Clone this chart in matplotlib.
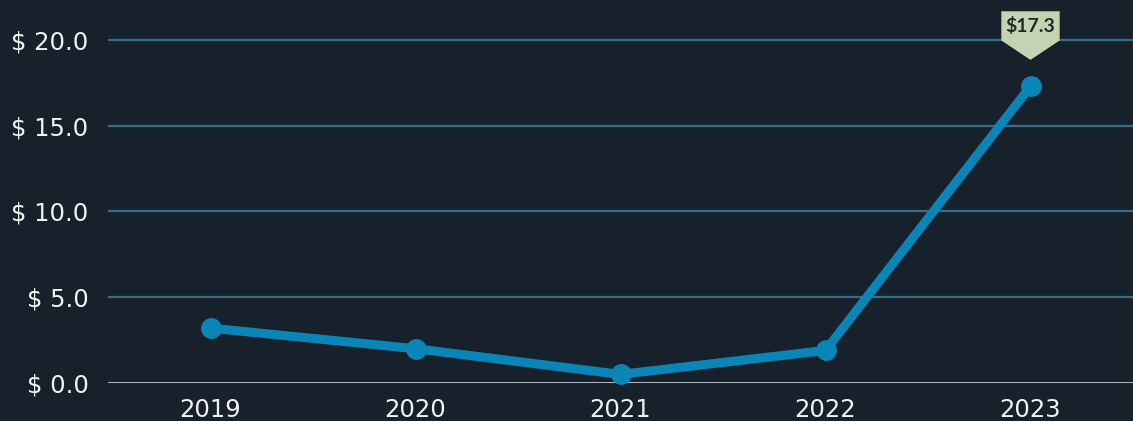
import matplotlib.pyplot as plt
import matplotlib.transforms as mtransforms
from matplotlib.patches import Polygon

years = ["2019", "2020", "2021", "2022", "2023"]
values = [3.2, 2.0, 0.5, 1.9, 17.3]
yticks = [0, 5, 10, 15, 20]

BG = "#17212c"
LINE = "#0a86b6"
GRID = "#356f86"

fig = plt.figure(figsize=(11.33, 4.21), dpi=100, facecolor=BG)
ax = fig.add_axes([108 / 1133, 38 / 421, 1 - 108 / 1133, 383 / 421])
ax.set_facecolor(BG)

x = list(range(len(years)))
ax.plot(x, values, color=LINE, linewidth=6.5, marker="o", markersize=14,
        solid_capstyle="round", zorder=3, clip_on=False)

ax.set_xlim(-0.5, 4.5)
ax.set_ylim(0, 22.33)

for t in yticks:
    ax.axhline(t, color="#c3cbcf" if t == 0 else GRID,
               linewidth=2 if t == 0 else 1.6, zorder=1)

ax.set_yticks(yticks)
ax.set_yticklabels([f"$ {t:.1f}" for t in yticks])
ax.set_xticks(x)
ax.set_xticklabels(years)
ax.tick_params(axis="y", length=0, pad=14, labelsize=17.5, labelcolor="#f2f2f2")
ax.tick_params(axis="x", length=0, pad=11, labelsize=17.5, labelcolor="#f2f2f2")
for s in ax.spines.values():
    s.set_visible(False)

# callout for the last value
i = len(values) - 1
px = fig.dpi / 72
trans = mtransforms.Affine2D().scale(px) + mtransforms.ScaledTranslation(x[i], values[i], ax.transData)
shape = [(-21, 54), (21, 54), (21, 33), (0, 19), (-21, 33)]
ax.add_patch(Polygon(shape, closed=True, transform=trans, facecolor="#c6d3b3",
                     edgecolor="none", zorder=4, clip_on=False))
ax.text(0, 43.5, f"${values[i]:.1f}", transform=trans, ha="center", va="center",
        fontsize=14, fontweight="bold", family="Lato", color="#1b2a2a", zorder=5)

fig.savefig("out.png", dpi=100, facecolor=BG)
